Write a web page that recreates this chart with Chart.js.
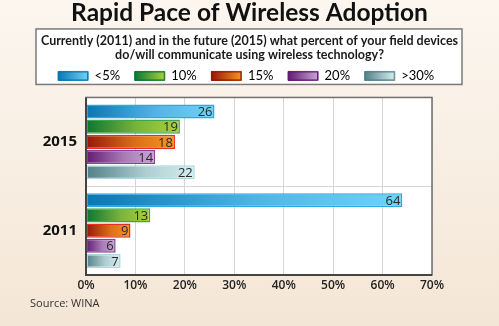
<!DOCTYPE html>
<html>
<head>
<meta charset="utf-8">
<script src="https://cdn.jsdelivr.net/npm/chart.js@4"></script>
<style>
  html, body { margin: 0; padding: 0; }
  body {
    width: 499px; height: 326px; overflow: hidden;
    background: linear-gradient(to bottom, #fcf6ef, #f4e6d6);
  }
  #wrap { position: relative; width: 499px; height: 326px; }
</style>
</head>
<body>
<div id="wrap"><canvas id="chart"></canvas></div>
<script>
// Wireless adoption chart

const years = ["2015", "2011"];
const seriesNames = ["<5%", "10%", "15%", "20%", ">30%"];
const lessThan5 = [26, 64];
const tenPct = [19, 13];
const fifteenPct = [18, 9];
const twentyPct = [14, 6];
const over30 = [22, 7];
const xTicks = [0, 10, 20, 30, 40, 50, 60, 70];

const chartTitle = "Rapid Pace of Wireless Adoption";
const question = [
    "Currently (2011) and in the future (2015) what percent of your field devices",
    "do/will communicate using wireless technology?"
];
const sourceText = "Source: WINA";

// dark -> light gradient, plus border colour
const palette = [
    { dark: "#0a76b0", light: "#70d2f7", border: "#29abe2" },
    { dark: "#0b7534", light: "#a9d13c", border: "#39a84a" },
    { dark: "#951708", light: "#f8951f", border: "#ec2a24" },
    { dark: "#611a72", light: "#c7a6d4", border: "#8e3d98" },
    { dark: "#527f86", light: "#d6eff1", border: "#a9d9dc" }
];

const allSeries = [lessThan5, tenPct, fifteenPct, twentyPct, over30];

function barGradient(ctx, i) {
    const chart = ctx.chart;
    const c = palette[i];
    if (!chart.chartArea || ctx.type !== "data") return c.light;
    const x = chart.scales.x;
    const x0 = x.getPixelForValue(0);
    const x1 = x.getPixelForValue(ctx.raw);
    if (!isFinite(x0) || !isFinite(x1) || x1 - x0 < 1) return c.light;
    const g = chart.ctx.createLinearGradient(x0, 0, x1, 0);
    g.addColorStop(0, c.dark);
    g.addColorStop(0.55, mix(c.dark, c.light, 0.7));
    g.addColorStop(1, c.light);
    return g;
}

function mix(a, b, t) {
    const pa = [1, 3, 5].map(k => parseInt(a.substr(k, 2), 16));
    const pb = [1, 3, 5].map(k => parseInt(b.substr(k, 2), 16));
    const r = pa.map((v, k) => Math.round(v + (pb[k] - v) * t));
    return "rgb(" + r.join(",") + ")";
}

const datasets = allSeries.map((values, i) => ({
    label: seriesNames[i],
    data: values,
    backgroundColor: ctx => barGradient(ctx, i),
    borderColor: palette[i].border,
    borderWidth: 1.5,
    borderSkipped: false,
    categoryPercentage: 0.855,
    barPercentage: 0.93
}));

// white plot area + box behind the question/legend
const panelPlugin = {
    id: "panels",
    beforeDraw(chart) {
        const { ctx, chartArea } = chart;
        ctx.save();
        const top = chart.titleBlock.bottom;
        const bottom = chartArea.top - 13;
        ctx.fillStyle = "#ffffff";
        ctx.strokeStyle = "#7a7a7a";
        ctx.lineWidth = 1.5;
        ctx.fillRect(36, top, 426, bottom - top);
        ctx.strokeRect(36, top, 426, bottom - top);
        ctx.fillRect(chartArea.left, chartArea.top, chartArea.width, chartArea.height);
        ctx.restore();
    },
    afterDatasetsDraw(chart) {
        const { ctx, chartArea } = chart;
        ctx.save();
        // value labels
        ctx.font = "13px 'Open Sans', sans-serif";
        ctx.fillStyle = "#2a2a2a";
        ctx.textAlign = "right";
        ctx.textBaseline = "middle";
        chart.data.datasets.forEach((ds, i) => {
            chart.getDatasetMeta(i).data.forEach((bar, j) => {
                ctx.fillText(String(ds.data[j]), bar.x - 2, bar.y + 1);
            });
        });
        // frame
        ctx.strokeStyle = "#6e6e6e";
        ctx.lineWidth = 1.5;
        ctx.strokeRect(chartArea.left, chartArea.top, chartArea.width, chartArea.height);
        ctx.strokeStyle = "#444";
        ctx.lineWidth = 2;
        ctx.beginPath();
        ctx.moveTo(chartArea.left, chartArea.top);
        ctx.lineTo(chartArea.left, chartArea.bottom);
        ctx.lineTo(chartArea.right, chartArea.bottom);
        ctx.stroke();
        ctx.restore();
    },
    afterDraw(chart) {
        const { ctx } = chart;
        ctx.save();
        // gradient swatches over the legend boxes
        const lg = chart.legend;
        const lab = lg.options.labels;
        const fs = lab.font.size;
        (lg.legendHitBoxes || []).forEach((hb, i) => {
            const c = palette[i];
            const y = hb.top + Math.max((fs - lab.boxHeight) / 2, 0);
            const g = ctx.createLinearGradient(hb.left, 0, hb.left + lab.boxWidth, 0);
            g.addColorStop(0, c.dark);
            g.addColorStop(1, c.light);
            ctx.fillStyle = g;
            ctx.fillRect(hb.left, y, lab.boxWidth, lab.boxHeight);
            ctx.strokeStyle = c.dark;
            ctx.lineWidth = 1;
            ctx.strokeRect(hb.left + 0.5, y + 0.5, lab.boxWidth - 1, lab.boxHeight - 1);
        });
        // source line
        ctx.font = "11px 'Open Sans', sans-serif";
        ctx.fillStyle = "#333";
        ctx.textAlign = "left";
        ctx.textBaseline = "middle";
        ctx.fillText(sourceText, 30, 304);
        ctx.restore();
    }
};

const spacerAxis = (pos, axis, size) => ({
    type: "category",
    axis: axis,
    position: pos,
    afterFit: s => { if (axis === "y") s.width = size; else s.height = size; },
    border: { display: false },
    grid: { display: false, drawTicks: false },
    ticks: { display: false }
});

new Chart(document.getElementById("chart"), {
    type: "bar",
    data: { labels: years, datasets: datasets },
    options: {
        indexAxis: "y",
        responsive: true,
        maintainAspectRatio: false,
        animation: false,
        layout: { padding: { left: 0, right: 0, top: 0, bottom: 31 } },
        scales: {
            x: {
                min: 0,
                max: 70,
                afterBuildTicks: s => { s.ticks = xTicks.map(v => ({ value: v })); },
                afterFit: s => { s.height = 20; },
                border: { display: false },
                grid: { color: "#d6d6d6", lineWidth: 1, drawTicks: false },
                ticks: {
                    padding: 3,
                    color: "#222",
                    font: { family: "'Open Sans', sans-serif", size: 12, weight: "600" },
                    callback: v => v + "%"
                }
            },
            y: {
                afterFit: s => { s.width = 86; },
                border: { display: false },
                grid: { color: "#d6d6d6", lineWidth: 1, drawTicks: false, offset: true },
                ticks: {
                    padding: 9,
                    color: "#111",
                    font: { family: "'Open Sans', sans-serif", size: 15, weight: "bold" }
                }
            },
            // empty spacers: right margin (70% sits at x 432) and gap under the legend box
            spacerRight: spacerAxis("right", "y", 67),
            spacerTop: spacerAxis("top", "x", 5)
        },
        plugins: {
            title: {
                display: true,
                text: chartTitle,
                color: "#111",
                font: { family: "Lato, sans-serif", size: 24.5, weight: "bold", lineHeight: 1.1 },
                padding: { top: 0, bottom: 2 }
            },
            subtitle: {
                display: true,
                text: question,
                color: "#1a1a1a",
                font: { family: "Lato, sans-serif", size: 12.5, weight: "bold", lineHeight: 1.1 },
                padding: { top: 5, bottom: 0 }
            },
            legend: {
                position: "top",
                labels: {
                    boxWidth: 30,
                    boxHeight: 9,
                    padding: 8,
                    color: "#222",
                    font: { family: "Lato, sans-serif", size: 13 },
                    generateLabels: chart => seriesNames.map((n, i) => ({
                        text: n + "\u00a0\u00a0",
                        fillStyle: palette[i].light,
                        strokeStyle: palette[i].dark,
                        lineWidth: 1,
                        datasetIndex: i
                    }))
                }
            },
            tooltip: { enabled: false }
        }
    },
    plugins: [panelPlugin]
});
</script>
</body>
</html>
